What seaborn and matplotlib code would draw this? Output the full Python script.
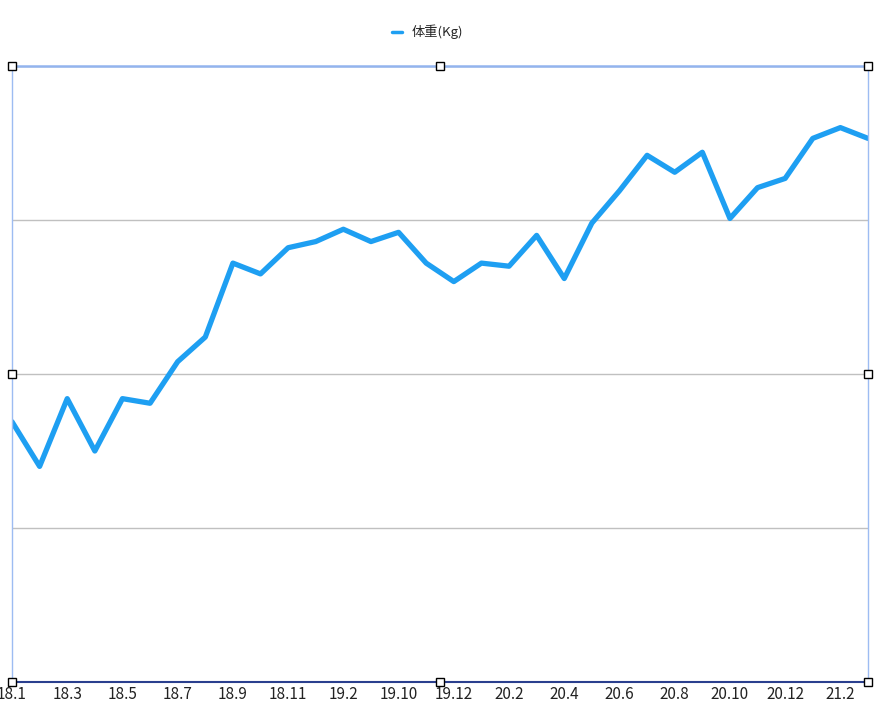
import matplotlib
matplotlib.use("Agg")
import matplotlib.pyplot as plt
import numpy as np
import pandas as pd
import seaborn as sns

# Month labels (yy.m) and weight readings
months = ["18.1", "18.2", "18.3", "18.4", "18.5", "18.6", "18.7", "18.8",
          "18.9", "18.10", "18.11", "18.12", "19.2", "19.6", "19.10", "19.11",
          "19.12", "20.1", "20.2", "20.3", "20.4", "20.5", "20.6", "20.7",
          "20.8", "20.9", "20.10", "20.11", "20.12", "21.1", "21.2", "21.3"]
weight = [61.69, 61.40, 61.84, 61.50, 61.84, 61.81, 62.08, 62.24,
          62.72, 62.65, 62.82, 62.86, 62.94, 62.86, 62.92, 62.72,
          62.60, 62.72, 62.70, 62.90, 62.62, 62.98, 63.19, 63.42,
          63.31, 63.44, 63.01, 63.21, 63.27, 63.53, 63.60, 63.53]
y_ticks = [60, 61, 62, 63, 64]

sns.set_theme(style="white")
plt.rcParams["font.family"] = ["Noto Sans CJK JP", "DejaVu Sans"]

df = pd.DataFrame({"idx": np.arange(len(months)), "month": months, "weight": weight})

fig = plt.figure(figsize=(8.88, 7.10), dpi=100)
ax = fig.add_axes([12 / 888, 28 / 710, 856 / 888, 616 / 710])

sns.lineplot(data=df, x="idx", y="weight", color="#1e9ff2", linewidth=3.8,
             label="体重(Kg)", ax=ax, sort=False)

ax.set_xlim(0, len(months) - 1)
ax.set_ylim(y_ticks[0], y_ticks[-1])
ax.set_yticks(y_ticks)
ax.set_yticklabels([])
ax.tick_params(axis="y", length=0)
ax.yaxis.grid(True, color="#c0c0c0", linewidth=1)
ax.xaxis.grid(False)

shown = list(range(0, len(months), 2))
ax.set_xticks(shown)
ax.set_xticklabels([months[i] for i in shown], fontsize=11, color="#222222")
ax.tick_params(axis="x", length=0, pad=3)
ax.set_xlabel("")
ax.set_ylabel("")

for side in ["left", "right"]:
    ax.spines[side].set_color("#9dbcf2")
    ax.spines[side].set_linewidth(1)
ax.spines["top"].set_color("#93b4ee")
ax.spines["top"].set_linewidth(1.8)
ax.spines["bottom"].set_color("#2a3f8e")
ax.spines["bottom"].set_linewidth(1.5)
for s in ax.spines.values():
    s.set_visible(True)

# selection handles on the frame
hx = [0, 0.5, 1, 0, 1, 0, 0.5, 1]
hy = [0, 0, 0, 0.5, 0.5, 1, 1, 1]
ax.plot(hx, hy, linestyle="none", marker="s", markersize=6, markerfacecolor="white",
        markeredgecolor="black", markeredgewidth=1, transform=ax.transAxes,
        clip_on=False, zorder=10)

leg = ax.legend(loc="center", bbox_to_anchor=(0.485, 1 + 34 / 616), frameon=False,
                fontsize=9.5, handlelength=0.8, handletextpad=0.7)
for line in leg.get_lines():
    line.set_linewidth(2.5)

fig.savefig("out.png", dpi=100)
